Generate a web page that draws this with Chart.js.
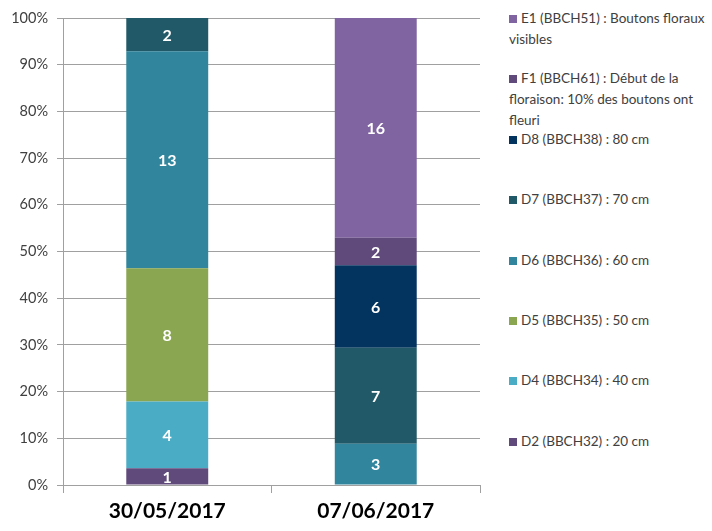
<!DOCTYPE html>
<html>
<head>
<meta charset="utf-8">
<script src="https://cdn.jsdelivr.net/npm/chart.js@4/dist/chart.umd.min.js"></script>
<style>
  html, body { margin: 0; padding: 0; background: #fff; }
  #wrap { position: relative; width: 712px; height: 531px; }
  #plot { position: absolute; left: 0; top: 0; width: 490px; height: 531px; }
  .lg { position: absolute; left: 509px; width: 202px; font: 13.5px Lato, sans-serif; line-height: 21px; color: #404040; }
  .lg i { display: inline-block; width: 8px; height: 8px; margin-right: 4px; vertical-align: 0px; }
</style>
</head>
<body>
<div id="wrap">
  <div id="plot"><canvas id="c"></canvas></div>
  <div id="legend"></div>
</div>
<script>
// stage counts per date, stacked bottom -> top, shown as share of the total
var dates  = ["30/05/2017", "07/06/2017"];
var stages = [
  "D2 (BBCH32) : 20 cm",
  "D4 (BBCH34) : 40 cm",
  "D5 (BBCH35) : 50 cm",
  "D6 (BBCH36) : 60 cm",
  "D7 (BBCH37) : 70 cm",
  "D8 (BBCH38) : 80 cm",
  "F1 (BBCH61) : Début de la floraison: 10% des boutons ont fleuri",
  "E1 (BBCH51) : Boutons floraux visibles"
];
var d2 = [1, 0];
var d4 = [4, 0];
var d5 = [8, 0];
var d6 = [13, 3];
var d7 = [2, 7];
var d8 = [0, 6];
var f1 = [0, 2];
var e1 = [0, 16];
var yTicks = [0, 10, 20, 30, 40, 50, 60, 70, 80, 90, 100];

var counts = [d2, d4, d5, d6, d7, d8, f1, e1];
var colors = ["#604a7b", "#4bacc6", "#8aa650", "#31859c", "#215968", "#03335f", "#604a7b", "#8064a2"];
var FONT = "Lato, sans-serif";
var GRID = "#a0a0a0";

var totals = dates.map(function(d, j) {
  return counts.reduce(function(s, c) { return s + c[j]; }, 0);
});

var datasets = counts.map(function(c, i) {
  return {
    label: stages[i],
    raw: c,
    data: c.map(function(v, j) { return v / totals[j] * 100; }),
    backgroundColor: colors[i],
    borderWidth: 0,
    categoryPercentage: 1,
    barPercentage: 0.393
  };
});

// value labels in the middle of each segment
var segLabels = {
  id: "segLabels",
  afterDatasetsDraw: function(chart) {
    var ctx = chart.ctx;
    ctx.save();
    ctx.fillStyle = "#fff";
    ctx.font = "bold 16px " + FONT;
    ctx.textAlign = "center";
    ctx.textBaseline = "middle";
    chart.data.datasets.forEach(function(ds, i) {
      chart.getDatasetMeta(i).data.forEach(function(el, j) {
        if (!ds.raw[j]) return;
        ctx.fillText(String(ds.raw[j]), el.x, (el.y + el.base) / 2 + 1);
      });
    });
    ctx.restore();
  }
};

new Chart(document.getElementById("c").getContext("2d"), {
  type: "bar",
  data: { labels: dates, datasets: datasets },
  plugins: [segLabels],
  options: {
    responsive: true,
    maintainAspectRatio: false,
    animation: false,
    layout: { padding: { top: 18, right: 10, left: 0, bottom: 0 } },
    plugins: { legend: { display: false }, tooltip: { enabled: false } },
    scales: {
      x: {
        stacked: true,
        grid: { display: true, drawOnChartArea: false, drawTicks: true, tickLength: 8, offset: true, color: GRID },
        border: { color: GRID },
        ticks: { color: "#000", font: { family: FONT, size: 21, weight: "bold" }, padding: 6 },
        afterFit: function(s) { s.height = 46; }
      },
      y: {
        stacked: true,
        min: 0, max: 100,
        afterBuildTicks: function(s) { s.ticks = yTicks.map(function(v) { return { value: v }; }); },
        grid: { color: GRID, tickLength: 6 },
        border: { color: GRID },
        ticks: { color: "#404040", font: { family: FONT, size: 14.5 }, padding: 9,
                 callback: function(v) { return v + "%"; } },
        afterFit: function(s) { s.width = 63; }
      }
    }
  }
});

// legend, reversed (top entry = top of stack), fixed pitch like the original
var lg = document.getElementById("legend");
for (var k = stages.length - 1, n = 0; k >= 0; k--, n++) {
  var item = document.createElement("div");
  item.className = "lg";
  item.style.top = (8 + n * 60.4) + "px";
  var sq = document.createElement("i");
  sq.style.background = colors[k];
  item.appendChild(sq);
  item.appendChild(document.createTextNode(stages[k]));
  lg.appendChild(item);
}
</script>
</body>
</html>
